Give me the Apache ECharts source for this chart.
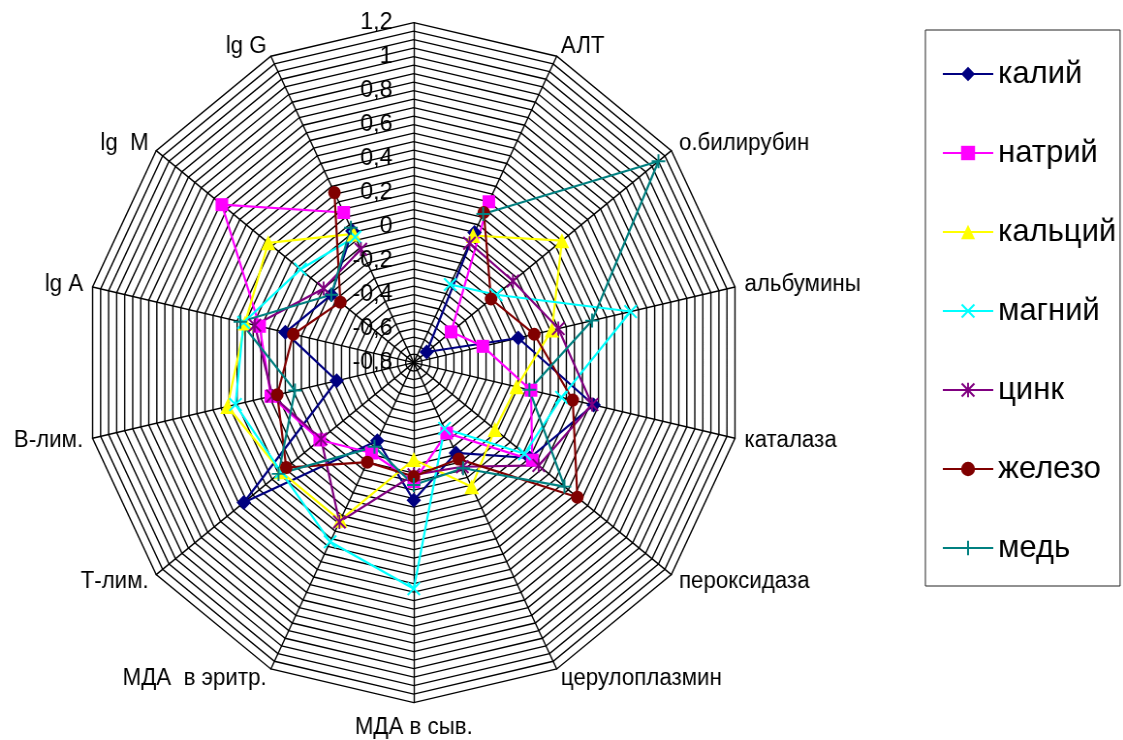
<!DOCTYPE html>
<html>
<head>
<meta charset="utf-8">
<script src="https://cdn.jsdelivr.net/npm/echarts@6/dist/echarts.min.js"></script>
<style>
  html, body { margin: 0; padding: 0; background: #fff; overflow: hidden; }
  #wrap { width: 1123px; height: 740px; overflow: hidden; }
  /* the whole drawing is slightly narrower than tall */
  #chart { width: 1159px; height: 740px; transform: scaleX(0.969); transform-origin: 0 0; }
</style>
</head>
<body>
<div id="wrap"><div id="chart"></div></div>
<script>
// Axes of the radar, clockwise from the top (the top spoke carries no data)
const categories = ['', 'АЛТ', 'о.билирубин', 'альбумины', 'каталаза', 'пероксидаза',
  'церулоплазмин', 'МДА в сыв.', 'МДА  в эритр.', 'Т-лим.', 'В-лим.', 'lg A', 'lg  M', 'lg G'];

// Scale of every spoke
const axisMin = -0.8, axisMax = 1.2, labelStep = 0.2, ringStep = 0.05;

// Values per element, in the order of categories (without the empty top spoke)
const kaliy   = [0.05, -0.70, -0.15,  0.32,  0.10, -0.21,  0.01, -0.29,  0.52, -0.32,  0.00, -0.16,  0.06];
const natriy  = [0.25, -0.51, -0.37, -0.07,  0.12, -0.34, -0.10, -0.21, -0.07,  0.09,  0.16,  0.69,  0.18];
const kalciy  = [0.03,  0.35,  0.06, -0.16, -0.17,  0.01, -0.23,  0.23,  0.23,  0.36,  0.25,  0.33,  0.04];
const magniy  = [-0.29, -0.16, 0.55,  0.12,  0.06, -0.37,  0.53,  0.37,  0.23,  0.31,  0.26,  0.08,  0.02];
const cink    = [-0.02, -0.03, 0.10,  0.31,  0.17, -0.12, -0.14,  0.24, -0.08,  0.08,  0.19, -0.10, -0.06];
const zhelezo = [0.18, -0.20, -0.05,  0.19,  0.47, -0.17, -0.13, -0.15,  0.19,  0.05, -0.05, -0.23,  0.31];
const med     = [0.17,  1.10,  0.31, -0.08,  0.37, -0.11, -0.08, -0.25,  0.25, -0.06,  0.28, -0.16,  0.08];

// Marker shapes drawn as filled outlines
const xMark = 'path://M0,1L1,0L5,4L9,0L10,1L6,5L10,9L9,10L5,6L1,10L0,9L4,5Z';
const plusMark = 'path://M4.3,0L5.7,0L5.7,4.3L10,4.3L10,5.7L5.7,5.7L5.7,10L4.3,10L4.3,5.7L0,5.7L0,4.3L4.3,4.3Z';
const starMark = 'path://M0,1L1,0L5,4L9,0L10,1L6,5L10,9L9,10L5,6L1,10L0,9L4,5Z M4.35,0L5.65,0L5.65,10L4.35,10Z';

const seriesDefs = [
  { name: 'калий',   values: kaliy,   color: '#000080', symbol: 'diamond',  size: 15 },
  { name: 'натрий',  values: natriy,  color: '#FF00FF', symbol: 'rect',     size: 13 },
  { name: 'кальций', values: kalciy,  color: '#FFFF00', symbol: 'triangle', size: 15 },
  { name: 'магний',  values: magniy,  color: '#00FFFF', symbol: xMark,      size: 14 },
  { name: 'цинк',    values: cink,    color: '#800080', symbol: starMark,   size: 14 },
  { name: 'железо',  values: zhelezo, color: '#800000', symbol: 'circle',   size: 13 },
  { name: 'медь',    values: med,     color: '#008080', symbol: plusMark,   size: 14 }
];

const CX = 427, CY = 362.6, R = 340;
const font = 'Liberation Sans, Arial, sans-serif';

// Category names sit centred on their anchor point; the bottom one hangs lower
const angleData = categories.map(name => ({
  value: name,
  textStyle: { lineHeight: name === 'МДА в сыв.' ? 30 : 1 }
}));

const chart = echarts.init(document.getElementById('chart'), null, { renderer: 'canvas' });

const option = {
  animation: false,
  backgroundColor: '#fff',
  textStyle: { fontFamily: font },
  radar: {
    center: [CX, CY],
    radius: R,
    startAngle: 90,
    shape: 'polygon',
    splitNumber: Math.round((axisMax - axisMin) / ringStep),
    indicator: categories.map(() => ({ name: '', min: axisMin, max: axisMax })),
    axisName: { show: false },
    axisLine: { lineStyle: { color: '#000', width: 1.4 } },
    splitLine: { lineStyle: { color: '#000', width: 1.4 } },
    splitArea: { show: false },
    axisTick: { show: false },
    axisLabel: { show: false },
    silent: true
  },
  polar: { center: [CX, CY], radius: R },
  angleAxis: {
    type: 'category',
    data: angleData,
    startAngle: 90,
    clockwise: true,
    boundaryGap: false,
    axisLine: { show: false },
    axisTick: { show: false },
    splitLine: { show: false },
    axisLabel: { margin: 10, fontSize: 23, color: '#000', fontFamily: font }
  },
  radiusAxis: {
    type: 'value',
    min: axisMin,
    max: axisMax,
    interval: labelStep,
    axisLine: { show: false },
    axisTick: { show: false },
    splitLine: { show: false },
    axisLabel: {
      margin: 22, fontSize: 24, color: '#000', fontFamily: font,
      formatter: v => String(Math.round(v * 10) / 10).replace('.', ',')
    },
    z: 10
  },
  legend: {
    orient: 'vertical',
    left: 955,
    top: 30,
    data: seriesDefs.map(s => s.name),
    itemWidth: 52,
    itemHeight: 18,
    itemGap: 47,
    padding: [28, 4, 22, 17],
    borderColor: '#222',
    borderWidth: 1,
    textStyle: { fontSize: 32, color: '#000', fontFamily: font }
  },
  series: seriesDefs.map(s => ({
    type: 'line',
    name: s.name,
    coordinateSystem: 'polar',
    data: ['-'].concat(s.values),
    symbol: s.symbol,
    symbolSize: s.size,
    showAllSymbol: true,
    connectNulls: false,
    lineStyle: { color: s.color, width: 2.2 },
    itemStyle: { color: s.color },
    emphasis: { disabled: true }
  }))
};

chart.setOption(option);
</script>
</body>
</html>
